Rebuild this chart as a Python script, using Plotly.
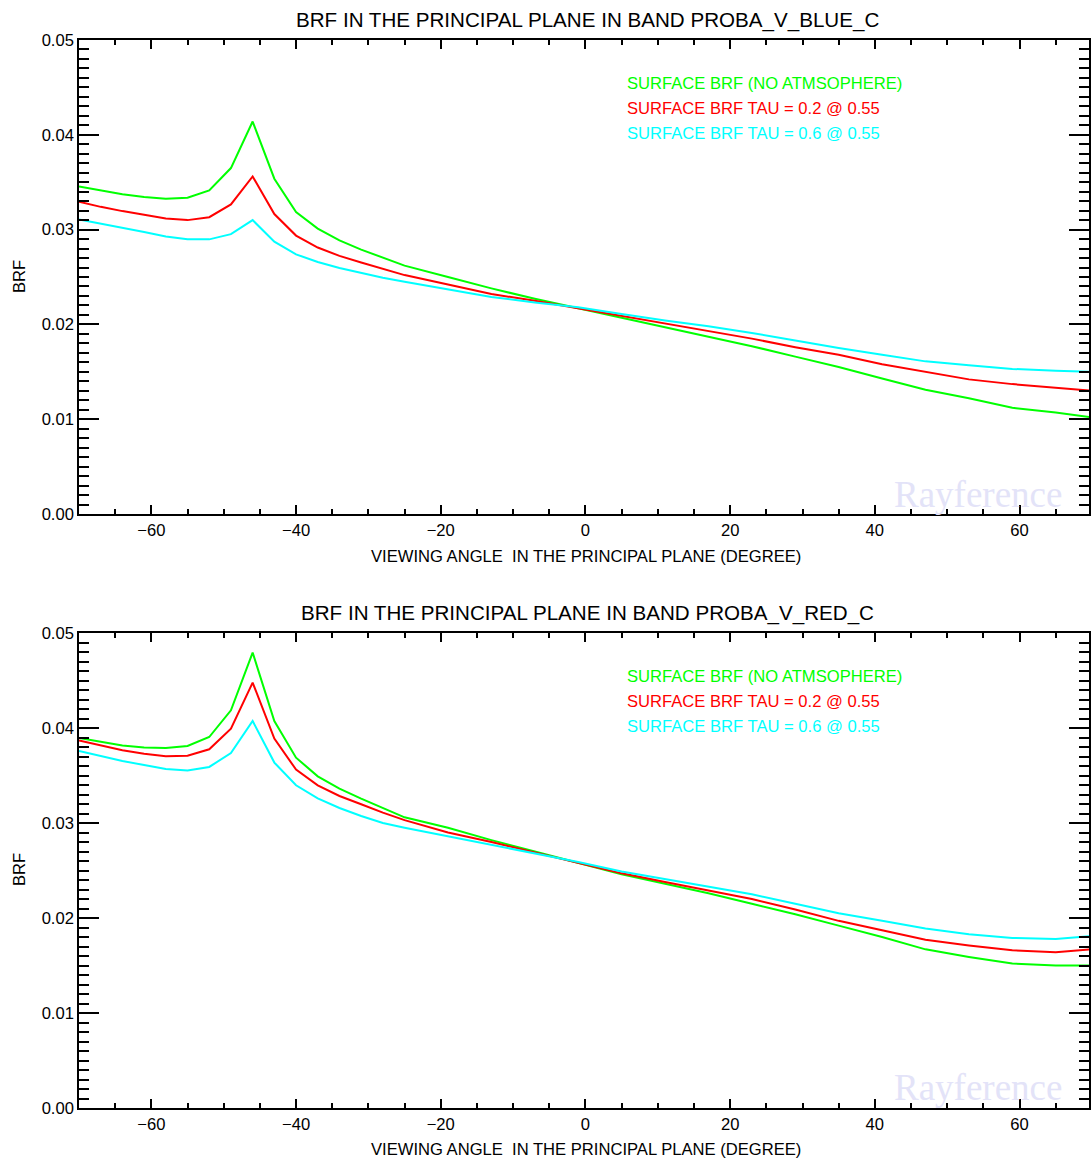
import plotly.graph_objects as go

# ---------------- data ----------------
angles = [-70, -67, -64, -61, -58, -55, -52, -49, -46, -43, -40, -37, -34, -31, -28, -25,
          -19, -13, -7, -1, 5, 11, 17, 23, 29, 35, 41, 47, 53, 59, 65, 70]

blue_no_atm = [0.03456, 0.03414, 0.03372, 0.03343, 0.03326, 0.03337, 0.03414, 0.03649, 0.0414,
               0.03537, 0.03185, 0.0301, 0.02887, 0.02789, 0.02701, 0.0262,
               0.0250, 0.0238, 0.0227, 0.0217, 0.0207, 0.0197, 0.0187, 0.0177, 0.0166, 0.0155,
               0.0143, 0.0131, 0.0122, 0.0112, 0.0107, 0.0102]
blue_tau02 = [0.03293, 0.0324, 0.03195, 0.03153, 0.03116, 0.031, 0.03131, 0.03265, 0.0356,
              0.03164, 0.02937, 0.02811, 0.02723, 0.02653, 0.02587, 0.0252,
              0.0242, 0.0232, 0.0225, 0.0217, 0.0209, 0.0201, 0.0193, 0.0185, 0.0176, 0.0168,
              0.0158, 0.0150, 0.0142, 0.0137, 0.0133, 0.0130]
blue_tau06 = [0.03107, 0.03065, 0.03019, 0.02974, 0.02928, 0.02897, 0.02897, 0.02952, 0.031,
              0.02872, 0.02739, 0.02658, 0.02595, 0.02542, 0.02493, 0.0245,
              0.0237, 0.0229, 0.0223, 0.0218, 0.0211, 0.0204, 0.0198, 0.0191, 0.0183, 0.0175,
              0.0168, 0.0161, 0.0157, 0.0153, 0.0151, 0.0150]

red_no_atm = [0.03895, 0.03853, 0.03815, 0.03794, 0.0379, 0.03811, 0.03905, 0.04186, 0.04794,
              0.04074, 0.03688, 0.03491, 0.03362, 0.03257, 0.03158, 0.0306,
              0.0295, 0.0282, 0.0270, 0.0258, 0.0246, 0.0236, 0.0226, 0.0215, 0.0204, 0.0192,
              0.0180, 0.0167, 0.0159, 0.0152, 0.0150, 0.0150]
red_tau02 = [0.0387, 0.03815, 0.03765, 0.0373, 0.03702, 0.03709, 0.03776, 0.03993, 0.04478,
             0.03888, 0.03562, 0.03397, 0.03284, 0.03197, 0.03109, 0.0303,
             0.0290, 0.0280, 0.0269, 0.0258, 0.0247, 0.0238, 0.0229, 0.0220, 0.0209, 0.0197,
             0.0187, 0.0177, 0.0171, 0.0166, 0.0164, 0.0167]
red_tau06 = [0.03758, 0.03702, 0.03653, 0.0361, 0.03568, 0.03552, 0.0359, 0.03737, 0.04074,
             0.03636, 0.03397, 0.0326, 0.03158, 0.03074, 0.0300, 0.0295,
             0.0286, 0.0277, 0.0268, 0.0259, 0.0249, 0.0241, 0.0233, 0.0225, 0.0215, 0.0205,
             0.0197, 0.0189, 0.0183, 0.0179, 0.0178, 0.0181]

series_names = ["SURFACE BRF (NO ATMSOPHERE)", "SURFACE BRF TAU = 0.2 @ 0.55", "SURFACE BRF TAU = 0.6 @ 0.55"]
series_colors = ["#00FF00", "#FF0000", "#00FFFF"]
titles = ["BRF IN THE PRINCIPAL PLANE IN BAND PROBA_V_BLUE_C",
          "BRF IN THE PRINCIPAL PLANE IN BAND PROBA_V_RED_C"]
x_title = "VIEWING ANGLE&nbsp; IN THE PRINCIPAL PLANE (DEGREE)"
y_title = "BRF"
watermark = "Rayference"

# ---------------- layout helpers ----------------
W, H = 1091, 1158
ML, MR, MT, MB = 79, 0, 40, 50
PW, PH = W - ML - MR, H - MT - MB


def px(x):
    return (x - ML) / PW


def py(y):
    return (H - MB - y) / PH


FONT = "Liberation Sans, Arial, Helvetica, sans-serif"
SMALL = 16.6
fig = go.Figure()

panels = [
    ("x", "y", [blue_no_atm, blue_tau02, blue_tau06]),
    ("x2", "y2", [red_no_atm, red_tau02, red_tau06]),
]
for xa, ya, data in panels:
    for name, col, vals in zip(series_names, series_colors, data):
        fig.add_trace(go.Scatter(x=angles, y=vals, mode="lines", name=name,
                                 line=dict(color=col, width=2), xaxis=xa, yaxis=ya,
                                 showlegend=False))

axis_common = dict(showline=True, linecolor="black", linewidth=1.5, mirror="ticks",
                   ticks="inside", tickcolor="black", tickwidth=1.5, showgrid=False,
                   zeroline=False, tickfont=dict(family=FONT, size=SMALL, color="black"))

xcommon = dict(axis_common, range=[-70, 69.6], tick0=-60, dtick=20, ticklen=9,
               minor=dict(ticks="inside", dtick=5, tick0=0, ticklen=5, tickcolor="black",
                          tickwidth=1.5, showgrid=False))
ycommon = dict(axis_common, range=[0, 0.05], tick0=0, dtick=0.01, ticklen=20, tickformat=".2f",
               minor=dict(ticks="inside", dtick=0.001, tick0=0, ticklen=10, tickcolor="black",
                          tickwidth=1.5, showgrid=False))

top_dom = [py(514), 1.0]
bot_dom = [0.0, py(633)]

fig.update_layout(
    width=W, height=H, margin=dict(l=ML, r=MR, t=MT, b=MB),
    paper_bgcolor="white", plot_bgcolor="white",
    font=dict(family=FONT, color="black"),
    xaxis=dict(xcommon, domain=[0, 1], anchor="y"),
    yaxis=dict(ycommon, domain=top_dom, anchor="x"),
    xaxis2=dict(xcommon, domain=[0, 1], anchor="y2"),
    yaxis2=dict(ycommon, domain=bot_dom, anchor="x2"),
)

annotations = []
panel_offsets = [0, 593]
for i, off in enumerate(panel_offsets):
    # title
    annotations.append(dict(text=titles[i], x=px(589), y=py(20 + off), xref="paper", yref="paper",
                            showarrow=False, xanchor="center", yanchor="middle",
                            font=dict(family=FONT, size=20.6, color="black")))
    # x axis title
    annotations.append(dict(text=x_title, x=px(587), y=py(556 + off), xref="paper", yref="paper",
                            showarrow=False, xanchor="center", yanchor="middle",
                            font=dict(family=FONT, size=SMALL, color="black")))
    # y axis title
    annotations.append(dict(text=y_title, x=px(19), y=py(277 + off), xref="paper", yref="paper",
                            showarrow=False, xanchor="center", yanchor="middle", textangle=-90,
                            font=dict(family=FONT, size=SMALL, color="black")))
    # legend text
    for j, (name, col) in enumerate(zip(series_names, series_colors)):
        annotations.append(dict(text=name, x=px(626), y=py(83 + 25 * j + off), xref="paper",
                                yref="paper", showarrow=False, xanchor="left", yanchor="middle",
                                font=dict(family=FONT, size=SMALL, color=col)))
    # watermark
    annotations.append(dict(text=watermark, x=px(980), y=py(494 + off), xref="paper", yref="paper",
                            showarrow=False, xanchor="center", yanchor="middle",
                            font=dict(family="Liberation Serif, Times New Roman, serif", size=37,
                                      color="#E3E3F8")))

fig.update_layout(annotations=annotations)

fig.write_html("out.html", config={"displayModeBar": False},
               post_script="document.body.style.margin='0';document.body.style.overflow='hidden';")
